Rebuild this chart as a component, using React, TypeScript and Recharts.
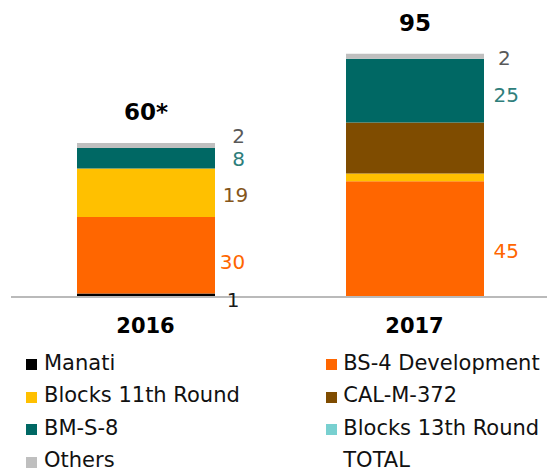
import React from 'react';
import { BarChart, Bar, XAxis, YAxis, Legend, LabelList } from 'recharts';

// ---- data ----
const categories = ['2016', '2017'];
const manati = [1, 0];
const bs4Development = [30, 45];
const blocks11thRound = [19, 3];
const calM372 = [0, 20];
const bmS8 = [8, 25];
const blocks13thRound = [0, 0];
const others = [2, 2];
const totalLabels = ['60*', '95'];
const legendLabels = [
  'Manati',
  'BS-4 Development',
  'Blocks 11th Round',
  'CAL-M-372',
  'BM-S-8',
  'Blocks 13th Round',
  'Others',
  'TOTAL',
];

const data = categories.map((year, i) => ({
  year,
  manati: manati[i],
  bs4: bs4Development[i],
  blocks11: blocks11thRound[i],
  cal: calM372[i],
  bms8: bmS8[i],
  blocks13: blocks13thRound[i],
  others: others[i],
}));

type Series = {
  key: string;
  name: string;
  values: number[];
  fill: string;
  text: string;
  nudge: number[][];
  hide?: boolean[];
};

const SERIES: Series[] = [
  { key: 'manati', name: legendLabels[0], values: manati, fill: '#000000', text: '#1a1a1a', nudge: [[-3, 5], [0, 0]] },
  { key: 'bs4', name: legendLabels[1], values: bs4Development, fill: '#FF6600', text: '#FF6600', nudge: [[-3.5, 6.5], [1.3, 11.7]] },
  { key: 'blocks11', name: legendLabels[2], values: blocks11thRound, fill: '#FFC000', text: '#85561A', nudge: [[-0.5, 1.7], [0, 0]], hide: [false, true] },
  { key: 'cal', name: legendLabels[3], values: calM372, fill: '#7F4C00', text: '#85561A', nudge: [[0, 0], [1.3, 2.7]] },
  { key: 'bms8', name: legendLabels[4], values: bmS8, fill: '#006864', text: '#2E7E7B', nudge: [[2.5, 0], [1.3, 3.5]] },
  { key: 'blocks13', name: legendLabels[5], values: blocks13thRound, fill: '#78D0D0', text: '#78D0D0', nudge: [[0, 0], [0, 0]] },
  { key: 'others', name: legendLabels[6], values: others, fill: '#BFBFBF', text: '#595959', nudge: [[2.5, -9.5], [-0.7, 1]] },
];

const legendColors = SERIES.map((s) => s.fill).concat([null as any]);

const FONT = "'DejaVu Sans', Verdana, sans-serif";

const getBox = (props: any) => {
  const vb = props.viewBox && props.viewBox.width != null ? props.viewBox : props;
  const x = Number(vb.x);
  const y = Number(vb.y);
  const width = Number(vb.width);
  const height = Number(vb.height);
  let idx = props.index;
  if (idx == null) idx = x < 270 ? 0 : 1;
  return { x, y, width, height, idx };
};

const makeValueLabel = (s: Series) => (props: any) => {
  const { x, y, width, height, idx } = getBox(props);
  const v = s.values[idx];
  if (!v || (s.hide && s.hide[idx])) return null;
  const [dx, dy] = s.nudge[idx];
  return (
    <text
      x={x + width + 21 + dx}
      y={y + height / 2 + 7.3 + dy}
      textAnchor="middle"
      fontSize={20}
      fontFamily={FONT}
      fill={s.text}
    >
      {v}
    </text>
  );
};

const totalLabel = (props: any) => {
  const { x, y, width, idx } = getBox(props);
  return (
    <text
      x={x + width / 2}
      y={y - 23}
      textAnchor="middle"
      fontSize={23}
      fontWeight="bold"
      fontFamily={FONT}
      fill="#000"
    >
      {totalLabels[idx]}
    </text>
  );
};

const ROW_H = 32.5;

const renderLegend = () => (
  <div style={{ position: 'relative', width: 547, height: 130, fontSize: 21, fontFamily: FONT, color: '#111' }}>
    {legendLabels.map((label, i) => {
      const col = i % 2;
      const row = Math.floor(i / 2);
      const color = legendColors[i];
      return (
        <div
          key={label}
          style={{
            position: 'absolute',
            left: col === 0 ? 26 : 326,
            top: row * ROW_H,
            height: ROW_H,
            lineHeight: ROW_H + 'px',
            whiteSpace: 'nowrap',
          }}
        >
          {color ? (
            <span style={{ position: 'absolute', left: 0, top: 12.5, width: 11, height: 11, background: color }} />
          ) : null}
          <span style={{ position: 'absolute', left: col === 0 ? 18 : 17.3, top: 0 }}>{label}</span>
        </div>
      );
    })}
  </div>
);

export default function App() {
  return (
    <div
      style={{
        position: 'absolute',
        left: 0,
        top: 0,
        width: 547,
        height: 473,
        overflow: 'hidden',
        background: '#fff',
        fontFamily: FONT,
      }}
    >
      <BarChart
        width={549}
        height={473}
        data={data}
        margin={{ top: 41, right: 0, bottom: 137, left: 11 }}
        barSize={138}
      >
        <XAxis
          dataKey="year"
          axisLine={{ stroke: '#A3A3A3', strokeWidth: 1.5, transform: 'translate(0,1)' } as any}
          tickLine={false}
          tick={{ fontSize: 21, fontWeight: 'bold', fill: '#000', fontFamily: FONT }}
          tickMargin={16}
          height={40}
          interval={0}
        />
        <YAxis hide domain={[0, 100]} />
        {SERIES.map((s) => (
          <Bar key={s.key} dataKey={s.key} name={s.name} stackId="a" fill={s.fill} isAnimationActive={false}>
            <LabelList content={makeValueLabel(s)} />
            {s.key === 'others' ? <LabelList content={totalLabel} /> : null}
          </Bar>
        ))}
        <Legend
          layout="horizontal"
          verticalAlign="middle"
          align="center"
          content={renderLegend}
          wrapperStyle={{ left: 0, top: 346.5, width: 547, height: 130 }}
        />
      </BarChart>
    </div>
  );
}
